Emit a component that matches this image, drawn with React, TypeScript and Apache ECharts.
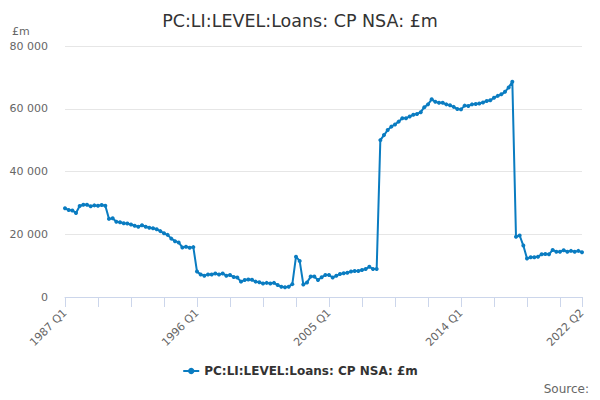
import React, { useEffect, useRef } from "react";
import * as echarts from "echarts";

const START_YEAR = 1987;
const QUARTER_COUNT = 142; // 1987 Q1 .. 2022 Q2

const quarters: string[] = [];
for (let i = 0; i < QUARTER_COUNT; i++) {
  quarters.push(`${START_YEAR + Math.floor(i / 4)} Q${(i % 4) + 1}`);
}

// £m
const loans1987to2008 = [
  28300, 27700, 27600, 26800, 29000, 29400, 29400, 28900, 29200, 29100,
  29300, 29100, 24900, 25100, 24000, 23800, 23500, 23400, 23100, 22700,
  22400, 22900, 22400, 22100, 21900, 21600, 21000, 20300, 19800, 18600,
  17800, 17400, 15800, 16000, 15700, 15900, 8100, 7200, 6800, 7200,
  7200, 7500, 7200, 7500, 6800, 7000, 6400, 6200, 4900, 5400,
  5600, 5500, 4900, 4700, 4300, 4500, 4300, 4500, 3800, 3300,
  3100, 3300, 4100, 12850, 11500, 4000, 4600, 6500, 6500, 5400,
  6300, 7000, 7000, 6200, 6800, 7300, 7600, 7750, 8100, 8300,
  8300, 8600, 8900, 9650, 8900, 8900,
];
const loans2008to2017 = [
  50000, 51600, 53200, 54300, 55000, 55900, 57000, 57000, 57500, 58100,
  58300, 58900, 60500, 61400, 63000, 62200, 61900, 61900, 61400, 61100,
  60600, 59900, 59800, 61000, 60900, 61400, 61500, 61700, 62000, 62500,
  62700, 63500, 64100, 64600, 65400, 66800, 68600,
];
const loans2017to2022 = [
  19200, 19600, 16400, 12300, 12650, 12650, 12850, 13600, 13700, 13600,
  15000, 14450, 14450, 14900, 14450, 14700, 14450, 14700, 14250,
];
const loans = [...loans1987to2008, ...loans2008to2017, ...loans2017to2022];

const yTicks = [0, 20000, 40000, 60000, 80000];

const SERIES_NAME = "PC:LI:LEVEL:Loans: CP NSA: £m";
const FONT = "DejaVu Sans";
const LINE_COLOR = "#0a7cc1";

const App = () => {
  const chartRef = useRef<HTMLDivElement>(null);

  useEffect(() => {
    if (!chartRef.current) return;
    const chart = echarts.init(chartRef.current, undefined, { renderer: "svg" });
    const last = quarters.length - 1;

    const option: echarts.EChartsOption = {
      animation: false,
      textStyle: { fontFamily: FONT },
      title: {
        text: SERIES_NAME,
        left: "center",
        top: 7,
        textStyle: { fontSize: 17.5, fontWeight: "normal", color: "#333333", fontFamily: FONT },
      },
      grid: { left: 65, right: 18, top: 46, bottom: 103, containLabel: false },
      legend: {
        bottom: 18,
        left: "center",
        itemWidth: 16,
        itemHeight: 8,
        itemGap: 6,
        textStyle: { fontSize: 12, fontWeight: "bold", color: "#333333", fontFamily: FONT },
        data: [SERIES_NAME],
      },
      xAxis: {
        type: "category",
        data: quarters,
        boundaryGap: false,
        axisLine: { lineStyle: { color: "#ccd6eb" } },
        axisTick: {
          length: 10,
          interval: (i: number) => i % 9 === 0 || i === last,
          lineStyle: { color: "#ccd6eb" },
        },
        axisLabel: {
          interval: (i: number) => i % 36 === 0 || i === last,
          rotate: 45,
          margin: 14,
          color: "#666666",
          fontSize: 11,
          fontFamily: FONT,
        },
        splitLine: { show: false },
      },
      yAxis: {
        type: "value",
        min: yTicks[0],
        max: yTicks[yTicks.length - 1],
        interval: yTicks[1] - yTicks[0],
        axisLine: { show: false },
        axisTick: { show: false },
        axisLabel: {
          margin: 17,
          color: "#666666",
          fontSize: 11,
          fontFamily: FONT,
          formatter: (v: number) => String(v).replace(/\B(?=(\d{3})+(?!\d))/g, " "),
        },
        splitLine: { lineStyle: { color: "#e6e6e6" } },
      },
      graphic: [
        {
          type: "text",
          left: 12,
          top: 26,
          style: { text: "£m", fill: "#666666", fontSize: 11, fontFamily: FONT },
        },
        {
          type: "text",
          right: 11,
          top: 383,
          style: { text: "Source:", fill: "#666666", fontSize: 12, fontFamily: FONT },
        },
      ],
      series: [
        {
          name: SERIES_NAME,
          type: "line",
          data: loans,
          symbol: "circle",
          symbolSize: 4,
          showSymbol: true,
          showAllSymbol: true,
          lineStyle: { width: 2, color: LINE_COLOR },
          itemStyle: { color: LINE_COLOR },
        },
      ],
    };

    chart.setOption(option);
    return () => chart.dispose();
  }, []);

  return (
    <div
      ref={chartRef}
      style={{ position: "absolute", left: 0, top: 0, width: "600px", height: "400px" }}
    />
  );
};

export default App;
